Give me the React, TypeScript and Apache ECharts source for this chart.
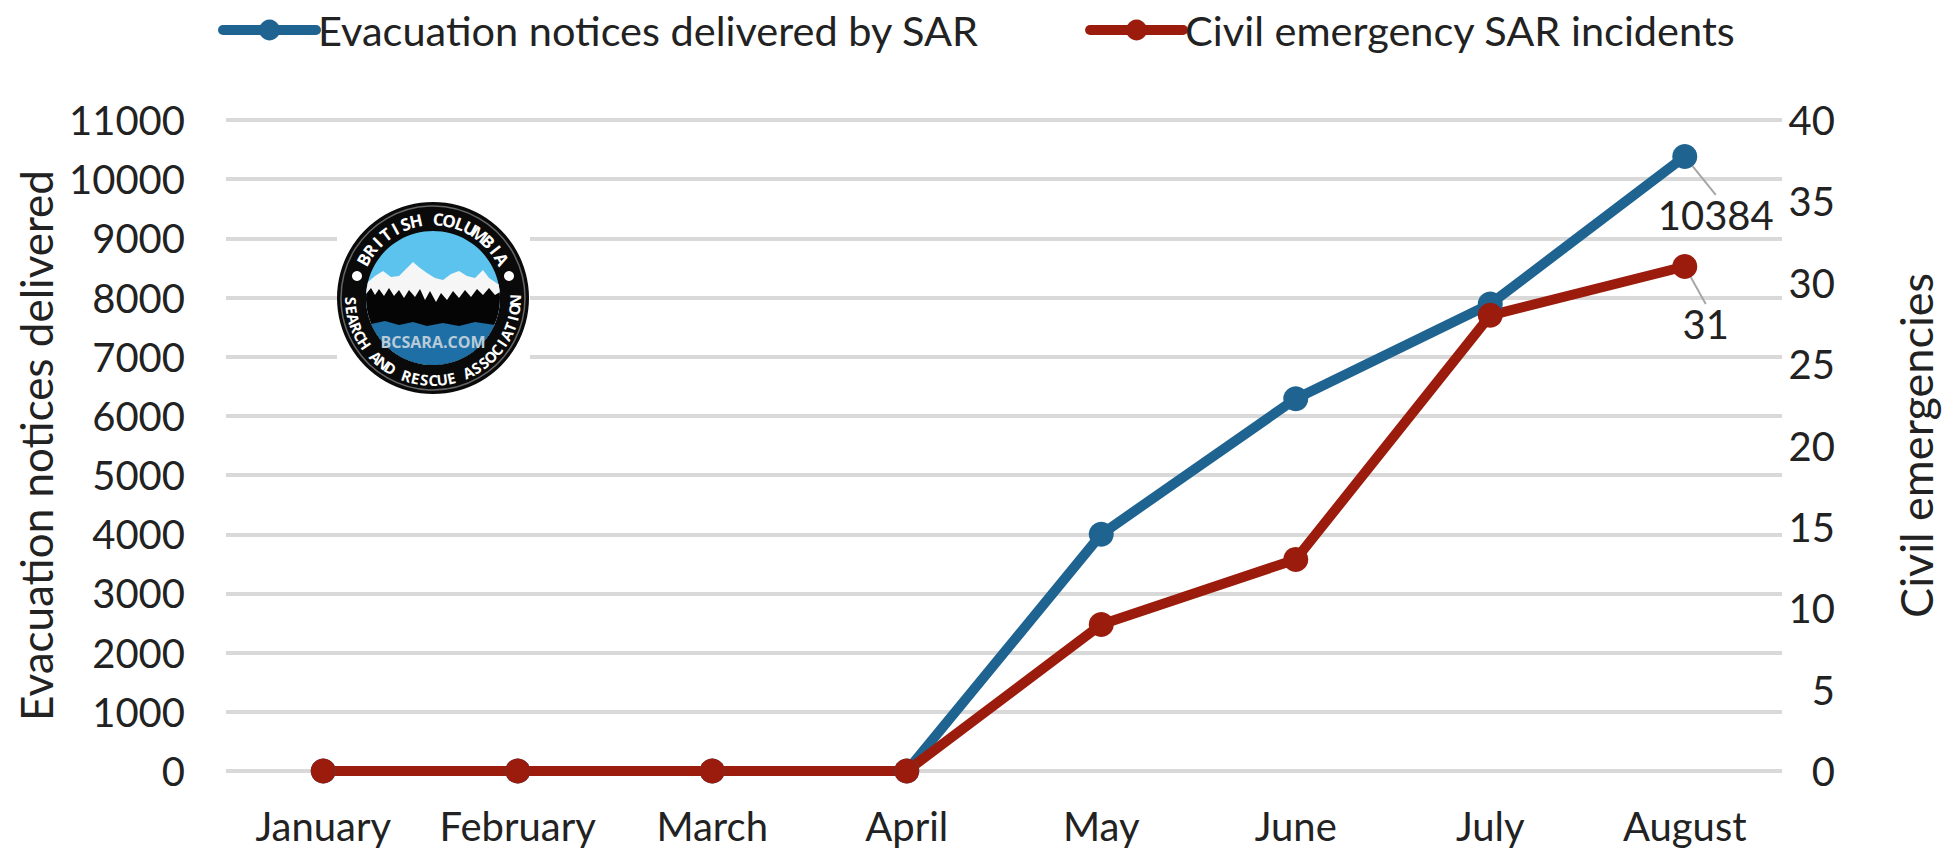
import React, { useEffect, useRef } from "react";
import * as echarts from "echarts";

const months = ["January", "February", "March", "April", "May", "June", "July", "August"];
const noticesName = "Evacuation notices delivered by SAR";
const incidentsName = "Civil emergency SAR incidents";
const notices = [0, 0, 0, 0, 4000, 6290, 7890, 10384];
const incidents = [0, 0, 0, 0, 9, 13, 28, 31];

const FONT = 'Lato, "Liberation Sans", sans-serif';
const INK = "#222222";
const BLUE = "#1F6391";
const RED = "#9B1C0C";
const GRID = "#D9D9D9";

const LCX = 433;
const LCY = 298;
const IR = 67;

function arcText(text: string, radius: number, startDeg: number, stepDeg: number, bottom: boolean, size: number) {
  return text.split("").map((ch, i) => {
    const deg = startDeg + i * stepDeg;
    const a = (deg * Math.PI) / 180;
    const x = LCX + radius * Math.sin(a);
    const y = LCY - radius * Math.cos(a);
    const rotation = bottom ? -((deg - 180) * Math.PI) / 180 : -a;
    return {
      type: "text",
      z: 103,
      x,
      y,
      rotation,
      style: { text: ch, fill: "#ffffff", font: `bold ${size}px "Open Sans", sans-serif`, align: "center", verticalAlign: "middle" },
    };
  });
}

function segment(top: number[][], fill: string, z: number) {
  const first = top[0];
  const last = top[top.length - 1];
  const a0 = Math.atan2(last[1], last[0]);
  let a1 = Math.atan2(first[1], first[0]);
  if (a1 < a0) a1 += Math.PI * 2;
  const arc: number[][] = [];
  for (let i = 0; i <= 40; i++) {
    const a = a0 + ((a1 - a0) * i) / 40;
    arc.push([IR * Math.cos(a), IR * Math.sin(a)]);
  }
  return {
    type: "polygon",
    z,
    x: LCX,
    y: LCY,
    shape: { points: [...top, ...arc] },
    style: { fill },
  };
}

const mountainEdge = [[-65, -16], [-58, -22], [-50, -27], [-42, -21], [-34, -22], [-26, -30], [-20, -36], [-13, -30], [-6, -25], [2, -20], [10, -18], [18, -24], [26, -27], [34, -22], [42, -20], [50, -28], [56, -20], [65, -14]];
const treeEdge = [[-67, -4], [-62, -10], [-58, -3], [-54, -9], [-49, -2], [-44, -10], [-39, -2], [-34, -8], [-29, 0], [-24, -8], [-18, -1], [-13, -9], [-8, 2], [-3, -7], [3, 4], [8, -5], [14, 2], [20, -7], [26, 0], [32, -8], [38, -1], [44, -9], [50, -3], [56, -10], [62, -3], [67, -6]];
const waterEdge = [[-62, 26], [-48, 23], [-34, 27], [-20, 24], [-6, 28], [10, 25], [26, 28], [42, 24], [62, 27]];

function logo() {
  return [
    { type: "rect", z: 100, shape: { x: 337, y: 200, width: 193, height: 196 }, style: { fill: "#ffffff" } },
    { type: "circle", z: 101, shape: { cx: LCX, cy: LCY, r: 96 }, style: { fill: "#0A0A0A" } },
    { type: "circle", z: 101, shape: { cx: LCX, cy: LCY, r: 92 }, style: { fill: "none", stroke: "#666666", lineWidth: 1.5 } },
    { type: "circle", z: 101, shape: { cx: LCX, cy: LCY, r: IR }, style: { fill: "#5CC2EE" } },
    segment(mountainEdge, "#F6F6F6", 102),
    segment(treeEdge, "#050505", 102),
    segment(waterEdge, "#1D6FA6", 102),
    { type: "text", z: 103, x: LCX, y: LCY + 44, style: { text: "BCSARA.COM", fill: "#B9CBD8", font: 'bold 16px "Open Sans", sans-serif', align: "center", verticalAlign: "middle" } },
    { type: "circle", z: 103, shape: { cx: LCX - 76, cy: LCY - 22, r: 5 }, style: { fill: "#ffffff" } },
    { type: "circle", z: 103, shape: { cx: LCX + 76, cy: LCY - 22, r: 5 }, style: { fill: "#ffffff" } },
    ...arcText("BRITISH COLUMBIA", 79, -61, 8.1, false, 17),
    ...arcText("SEARCH AND RESCUE ASSOCIATION", 82, 268, -6.3, true, 15),
  ];
}

export default function App() {
  const ref = useRef<HTMLDivElement>(null);
  useEffect(() => {
    document.body.style.margin = "0";
    const chart = echarts.init(ref.current!, null, { renderer: "svg" });
    const labelFont = { fontFamily: FONT, fontSize: 40, color: INK };
    const lastPoint = (value: number) => ({
      value,
      label: { show: true, position: "bottom", ...labelFont, formatter: "{c}" },
    });
    const leader = { show: true, lineStyle: { color: "#A6A6A6", width: 2 } };
    chart.setOption({
      animation: false,
      backgroundColor: "#ffffff",
      textStyle: { fontFamily: FONT },
      legend: {
        left: 213,
        top: 4,
        itemWidth: 93,
        itemHeight: 26,
        itemGap: 106,
        lineStyle: { width: 10, cap: "round" },
        textStyle: { fontFamily: FONT, fontSize: 41.5, color: INK, padding: [0, 0, 0, -3] },
        data: [noticesName, incidentsName],
      },
      grid: { left: 226, right: 178, top: 120, bottom: 80, outerBoundsMode: "none" },
      xAxis: {
        type: "category",
        data: months,
        axisLine: { show: false },
        axisTick: { show: false },
        axisLabel: { ...labelFont, margin: 35, interval: 0 },
      },
      yAxis: [
        {
          type: "value",
          min: 0,
          max: 11000,
          interval: 1000,
          name: "Evacuation notices delivered",
          nameLocation: "middle",
          nameRotate: 90,
          nameGap: 163,
          nameTextStyle: { fontFamily: FONT, fontSize: 44, color: INK },
          axisLine: { show: false },
          axisTick: { show: false },
          axisLabel: { ...labelFont, margin: 41, formatter: (v: number) => String(v) },
          splitLine: { show: true, lineStyle: { color: GRID, width: 4 } },
        },
        {
          type: "value",
          min: 0,
          max: 40,
          interval: 5,
          name: "Civil emergencies",
          nameLocation: "middle",
          nameRotate: 90,
          nameGap: 111,
          nameTextStyle: { fontFamily: FONT, fontSize: 45, color: INK },
          axisLine: { show: false },
          axisTick: { show: false },
          axisLabel: { ...labelFont, margin: 53, align: "right" },
          splitLine: { show: false },
        },
      ],
      series: [
        {
          name: noticesName,
          type: "line",
          yAxisIndex: 0,
          symbol: "circle",
          symbolSize: 25,
          lineStyle: { color: BLUE, width: 10 },
          itemStyle: { color: BLUE },
          labelLayout: { dx: 31, dy: 21 },
          labelLine: leader,
          data: notices.map((v, i) => (i === notices.length - 1 ? lastPoint(v) : v)),
        },
        {
          name: incidentsName,
          type: "line",
          yAxisIndex: 1,
          symbol: "circle",
          symbolSize: 25,
          lineStyle: { color: RED, width: 10 },
          itemStyle: { color: RED },
          labelLayout: { dx: 21, dy: 20 },
          labelLine: leader,
          data: incidents.map((v, i) => (i === incidents.length - 1 ? lastPoint(v) : v)),
        },
      ],
      graphic: { elements: logo() },
    });
    return () => chart.dispose();
  }, []);
  return <div ref={ref} style={{ width: 1960, height: 851 }} />;
}
